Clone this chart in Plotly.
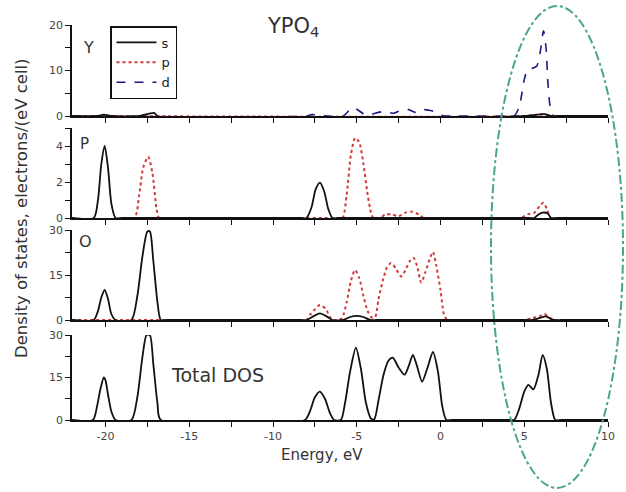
import plotly.graph_objects as go

# ---- Y partial DOS ----
y_s_e = [-22, -20.5, -20.1, -19.6, -18.0, -17.4, -17.1, -16.9, 5.0, 5.5, 6.2, 6.6, 7.0, 10]
y_s_v = [0, 0, 0.3, 0, 0, 0.5, 0.7, 0, 0, 0.2, 0.4, 0, 0, 0]
y_p_e = [-22, 5.2, 5.6, 6.2, 6.6, 7.0, 10]
y_p_v = [0, 0, 0.2, 0.4, 0, 0, 0]
y_d_e = [-22, -8.0, -7.7, -7.2, -6.8, -5.8, -5.3, -5.0, -4.6, -4.2, -3.7, -3.3, -2.8, -2.4,
         -1.9, -1.5, -1.0, -0.6, -0.2, 0.2, 0.6, 4.1, 4.4, 4.7, 5.0, 5.2, 5.5, 5.75, 5.95, 6.15,
         6.3, 6.4, 6.55, 6.75, 7.1, 10]
y_d_v = [0, 0, 0.3, 0.2, 0, 0, 1.8, 1.5, 0.5, 0.3, 0.8, 1.0, 0.6, 1.2,
         1.4, 0.8, 1.4, 1.2, 0.8, 0, 0, 0, 0, 2, 8, 10.2, 10.5, 11, 14, 18.7,
         15, 8, 2, 0, 0, 0]

# ---- P partial DOS ----
p_s_e = [-22, -20.7, -20.45, -20.25, -20.05, -19.85, -19.65, -19.4, -19.0, -8.4, -8.0, -7.7,
         -7.45, -7.2, -6.95, -6.7, -6.45, -6.1, 5.3, 5.6, 5.85, 6.1, 6.4, 6.6, 7.0, 10]
p_s_v = [0, 0, 1, 3, 4, 2.8, 0.8, 0, 0, 0, 0, 0.6,
         1.6, 1.97, 1.5, 0.5, 0, 0, 0, 0, 0.2, 0.3, 0.25, 0, 0, 0]
p_p_e = [-22, -18.3, -18.0, -17.75, -17.45, -17.2, -16.95, -16.8, -16.4, -6.2, -5.85, -5.6,
         -5.35, -5.1, -4.85, -4.6, -4.35, -4.15, -4.0, -3.6, -3.3, -2.9, -2.5, -2.1, -1.7,
         -1.3, -1.0, -0.6, 4.4, 4.8, 5.2, 5.6, 5.95, 6.15, 6.35, 6.6, 7.0, 10]
p_p_v = [0, 0, 1.2, 2.8, 3.4, 2.5, 0.5, 0, 0, 0, 0, 1.3,
         3.5, 4.45, 4.2, 3.0, 1.3, 0.3, 0, 0, 0.2, 0.2, 0.1, 0.3, 0.35,
         0.2, 0, 0, 0, 0, 0.2, 0.3, 0.7, 0.85, 0.5, 0, 0, 0]

# ---- O partial DOS ----
o_s_e = [-22, -20.7, -20.45, -20.25, -20.05, -19.85, -19.65, -19.4, -18.45, -18.1, -17.8,
         -17.5, -17.35, -17.15, -16.9, -16.7, -16.3, -8.4, -8.0, -7.6, -7.2, -6.8, -6.45,
         -5.8, -5.4, -5.0, -4.6, -4.2, -3.8, 5.1, 5.5, 6.0, 6.3, 6.6, 6.8, 7.2, 10]
o_s_v = [0, 0, 3, 7.5, 10, 7, 2, 0, 0, 8, 21,
         29.5, 29.5, 20, 6, 0, 0, 0, 0, 1.2, 2.2, 1.2, 0,
         0, 1, 1.4, 1, 0, 0, 0, 0, 0.8, 1.2, 0.3, 0, 0, 0]
o_p_e = [-22, -8.4, -8.0, -7.75, -7.5, -7.2, -6.85, -6.6, -6.4, -5.9, -5.6, -5.35, -5.1,
         -4.85, -4.6, -4.35, -4.1, -3.9, -3.7, -3.45, -3.2, -2.95, -2.65, -2.35, -2.1, -1.85,
         -1.6, -1.4, -1.15, -0.9, -0.6, -0.45, -0.25, 0.0, 0.2, 0.4, 0.8, 4.6, 5.0, 5.4, 5.9,
         6.2, 6.5, 6.8, 7.2, 10]
o_p_v = [0, 0, 0, 2, 3.5, 5, 3.7, 1, 0, 0.5, 6, 13, 16.7,
         14, 8, 3, 0.8, 1, 7, 13, 17.5, 19, 17, 14.5, 16.5, 19.5,
         20.7, 18, 12.5, 16, 21, 22.7, 18, 10, 2, 0, 0, 0, 0, 0.5, 1.2,
         2, 0.8, 0, 0, 0]

# ---- Total DOS ----
t_e = [-22, -20.75, -20.5, -20.3, -20.1, -20.0, -19.85, -19.65, -19.4, -18.45, -18.1, -17.8,
       -17.55, -17.35, -17.15, -16.9, -16.7, -8.1, -7.8, -7.5, -7.2, -6.9, -6.6, -6.35,
       -5.95, -5.7, -5.4, -5.05, -4.75, -4.45, -4.15, -3.95, -3.7, -3.4, -3.1, -2.85, -2.5,
       -2.15, -1.9, -1.65, -1.4, -1.1, -0.8, -0.45, -0.15, 0.1, 0.35, 0.7, 4.1, 4.4, 4.7,
       5.0, 5.25, 5.55, 5.85, 6.1, 6.35, 6.6, 6.85, 7.2, 10]
t_v = [0, 0, 5, 11, 15, 14, 9, 3, 0, 0, 8, 22,
       30, 30, 20, 6, 0, 0, 3, 8, 10, 7.5, 2.5, 0,
       0, 6, 17, 25.5, 18, 6, 0.5, 0.3, 7, 16, 21, 22, 18.5,
       16, 19, 23, 19, 13.5, 18, 24, 17, 5, 0, 0, 0, 0, 4,
       10, 12.4, 10.8, 16, 23, 18, 6, 0, 0, 0]

# panel setup
y_ranges = [[0, 20], [0, 5], [0, 30], [0, 30]]
y_ticks = [[0, 10, 20], [0, 2, 4], [0, 15, 30], [0, 15, 30]]
y_minor = [5, 1, 7.5, 7.5]
x_ticks = [-20, -15, -10, -5, 0, 5, 10]
x_tick_text = ["-20", "-15", "-10", "-5", "0", "5", "10"]

W, H = 626, 492
ML, MR, MT, MB = 72, 18, 20, 72
PW, PH = W - ML - MR, H - MT - MB


def py(p):
    """Pixel row -> paper y."""
    return (H - MB - p) / PH


def px(p):
    """Pixel column -> paper x."""
    return (p - ML) / PW


domains = [[py(116), py(25)], [py(218), py(128)], [py(320), py(230)], [py(420), py(335)]]

BLACK = "#111111"
RED = "#d03a3a"
BLUE = "#1a1a86"
LINE_S = dict(color=BLACK, width=1.8)
LINE_P = dict(color=RED, width=2, dash="dot")
LINE_D = dict(color=BLUE, width=1.6, dash="dash")

fig = go.Figure()


def add(e, v, i, name, line, legend):
    suffix = "" if i == 1 else str(i)
    fig.add_trace(go.Scatter(
        x=e, y=v, mode="lines", name=name, line=dict(shape="spline", smoothing=0.7, **line),
        xaxis="x" + suffix, yaxis="y" + suffix, showlegend=legend, legendgroup=name,
    ))


# panel 1: Y
add(y_d_e, y_d_v, 1, "d", LINE_D, True)
add(y_p_e, y_p_v, 1, "p", LINE_P, True)
add(y_s_e, y_s_v, 1, "s", LINE_S, True)
# panel 2: P
add(p_p_e, p_p_v, 2, "p", LINE_P, False)
add(p_s_e, p_s_v, 2, "s", LINE_S, False)
# panel 3: O
add(o_p_e, o_p_v, 3, "p", LINE_P, False)
add(o_s_e, o_s_v, 3, "s", LINE_S, False)
# panel 4: total
add(t_e, t_v, 4, "Total", LINE_S, False)

TICKFONT = dict(family="DejaVu Sans", size=11, color="#444444")
layout = dict(
    width=W, height=H, margin=dict(l=ML, r=MR, t=MT, b=MB),
    paper_bgcolor="white", plot_bgcolor="white",
    showlegend=True,
    legend=dict(
        x=px(110), y=py(26), xanchor="left", yanchor="top",
        bgcolor="white", bordercolor=BLACK, borderwidth=1.5,
        font=dict(family="DejaVu Sans", size=13, color="#222222"),
        itemwidth=40, tracegroupgap=5, traceorder="reversed",
    ),
)

for i in range(1, 5):
    suffix = "" if i == 1 else str(i)
    layout["xaxis" + suffix] = dict(
        range=[-22, 10], anchor="y" + suffix, domain=[0, 1],
        showline=True, linecolor=BLACK, linewidth=1.5, mirror=False,
        showgrid=False, zeroline=False,
        ticks="outside", ticklen=5, tickwidth=1.3, tickcolor=BLACK,
        tickvals=x_ticks, ticktext=x_tick_text, showticklabels=(i == 4), tickfont=TICKFONT,
        minor=dict(dtick=2.5, tick0=0, ticks="outside", ticklen=5, tickwidth=1.3,
                   tickcolor=BLACK, showgrid=False),
    )
    layout["yaxis" + suffix] = dict(
        range=y_ranges[i - 1], anchor="x" + suffix, domain=domains[i - 1],
        showline=True, linecolor=BLACK, linewidth=1.5,
        showgrid=False, zeroline=False,
        ticks="outside", ticklen=5, tickwidth=1.3, tickcolor=BLACK,
        tickvals=y_ticks[i - 1], tickfont=TICKFONT,
        minor=dict(dtick=y_minor[i - 1], tick0=0, ticks="outside", ticklen=5,
                   tickwidth=1.3, tickcolor=BLACK, showgrid=False),
    )

fig.update_layout(**layout)

TEXT = "#333333"
annotations = [
    dict(text="YPO<sub>4</sub>", x=px(293), y=py(27), font=dict(family="DejaVu Sans", size=21, color=TEXT)),
    dict(text="Y", x=px(88), y=py(47), font=dict(family="DejaVu Sans", size=16, color=TEXT)),
    dict(text="P", x=px(84), y=py(144), font=dict(family="DejaVu Sans", size=15, color=TEXT)),
    dict(text="O", x=px(85), y=py(242), font=dict(family="DejaVu Sans", size=16, color=TEXT)),
    dict(text="Total DOS", x=px(217), y=py(375), font=dict(family="DejaVu Sans", size=19, color=TEXT)),
    dict(text="Energy, eV", x=px(322), y=py(455), font=dict(family="DejaVu Sans", size=15, color=TEXT)),
    dict(text="Density of states, electrons/(eV cell)", x=px(21), y=py(208), textangle=-90,
         font=dict(family="DejaVu Sans", size=16.5, color=TEXT)),
]
for a in annotations:
    a.update(xref="paper", yref="paper", showarrow=False, xanchor="center", yanchor="middle")
fig.update_layout(annotations=annotations)

# highlight of the conduction-band region
fig.add_shape(type="circle", xref="paper", yref="paper",
              x0=px(491), x1=px(623), y0=py(488), y1=py(6),
              line=dict(color="#4aa58a", width=2, dash="dashdot"), layer="above")

fig.write_html("out.html")
